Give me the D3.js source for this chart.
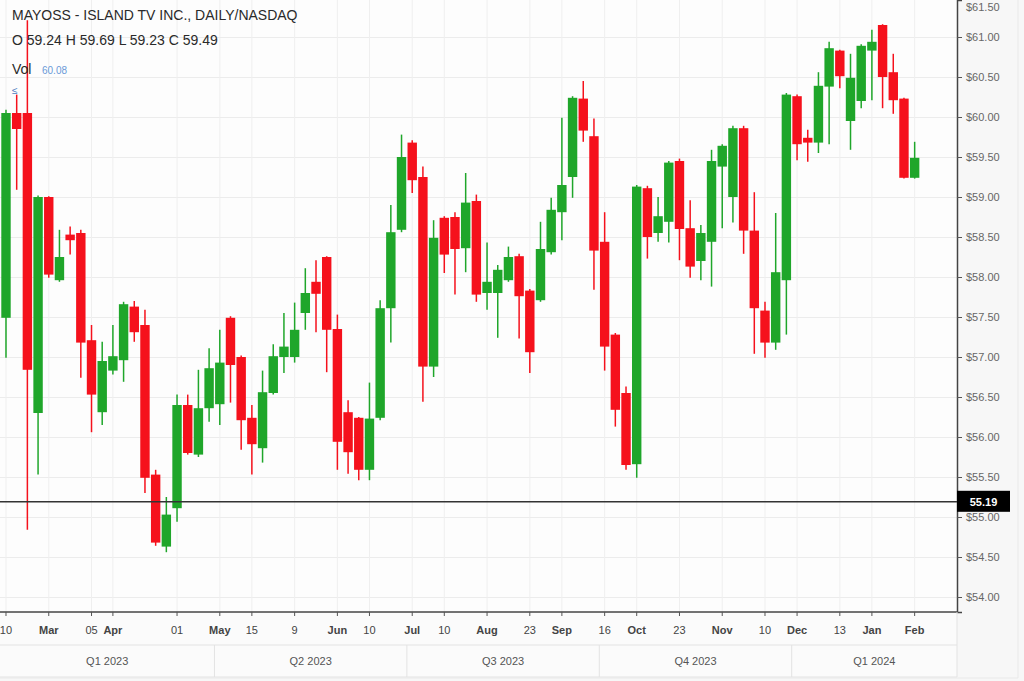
<!DOCTYPE html>
<html>
<head>
<meta charset="utf-8">
<script src="https://cdn.jsdelivr.net/npm/d3@7"></script>
<style>
html,body{margin:0;padding:0;background:#f7f7f7;}
svg{display:block;font-family:"Liberation Sans",Arial,sans-serif;}
</style>
</head>
<body>
<svg id="chart" width="1024" height="681"></svg>
<script>
// ---- data ----
const opens = [57.49,60.05,60.05,56.30,59.00,57.96,58.53,58.55,57.21,56.31,
  56.83,56.96,57.63,57.40,55.53,54.63,55.11,56.40,55.78,56.36,
  56.41,57.49,57.00,56.24,55.86,56.55,57.00,57.00,57.55,57.94,
  58.25,57.35,56.31,56.24,55.59,56.24,57.61,58.59,59.68,59.25,
  56.88,58.74,58.75,58.36,58.95,57.80,57.80,57.96,58.26,57.83,
  57.71,58.31,58.81,59.25,60.23,59.76,58.44,57.28,56.55,55.66,
  59.11,58.55,58.69,59.45,58.61,58.20,58.44,59.38,59.00,59.86,
  58.58,57.58,57.18,57.96,60.26,59.74,59.68,60.38,60.83,59.95,
  60.20,60.83,61.15,60.56,60.23,59.24];
const highs = [60.09,60.28,61.21,59.02,59.01,58.59,58.63,58.59,57.40,57.19,
  57.40,57.69,57.70,57.59,55.59,55.25,56.53,56.53,56.84,57.11,
  57.34,57.51,57.02,56.40,56.83,57.16,57.55,57.68,58.11,58.21,
  58.26,57.53,56.46,56.25,56.68,57.71,58.90,59.78,59.71,59.38,
  58.71,58.76,58.81,59.30,59.03,58.43,58.15,58.38,58.29,57.85,
  58.69,58.99,59.99,60.26,60.45,59.98,58.81,57.30,56.63,59.15,
  59.14,59.00,59.45,59.48,58.96,58.65,59.59,59.66,59.89,59.89,
  59.06,57.69,58.80,60.30,60.28,59.84,60.56,60.94,60.84,60.79,
  60.91,61.09,61.16,60.79,60.24,59.69];
const lows = [56.99,59.09,54.84,55.53,57.99,57.94,58.28,56.74,56.06,56.15,
  56.78,56.69,57.19,55.30,54.64,54.56,54.94,55.78,55.75,56.19,
  56.15,56.43,55.84,55.53,55.68,56.53,56.80,56.93,57.34,57.31,
  56.81,55.59,55.54,55.46,55.46,56.21,57.18,58.56,59.05,56.44,
  56.75,58.05,57.78,58.06,57.69,57.59,57.24,57.94,57.23,56.80,
  57.69,58.28,58.46,58.99,59.69,57.84,56.83,56.13,55.59,55.49,
  58.23,58.44,58.43,58.21,57.99,57.96,57.88,58.61,58.68,58.29,
  57.04,56.99,57.09,57.28,59.46,59.44,59.55,59.66,60.36,59.59,
  60.11,60.21,60.11,60.04,59.23,59.23];
const closes = [60.05,59.85,56.84,59.00,58.03,58.25,58.46,57.18,56.53,56.95,
  57.01,57.66,57.31,55.49,54.68,55.03,56.40,55.80,56.36,56.86,
  56.93,56.90,56.21,55.91,56.56,57.01,57.13,57.34,57.80,57.79,
  57.34,55.94,55.81,55.59,56.23,57.61,58.56,59.50,59.21,56.88,
  58.49,58.28,58.35,58.93,57.78,57.94,58.09,58.25,57.76,57.06,
  58.35,58.84,59.15,60.24,59.83,58.33,57.13,56.34,55.65,59.13,
  58.50,58.76,59.43,58.60,58.13,58.55,59.45,59.64,59.86,58.58,
  57.61,57.18,58.06,60.28,59.66,59.68,60.39,60.86,60.51,60.49,
  60.89,60.94,60.50,60.21,59.24,59.49];

// trading sessions (weekdays)
const sessions = d3.timeDay.range(new Date(2023, 2, 6), new Date(2023, 6, 31))
  .filter(d => d.getDay() !== 0 && d.getDay() !== 6)
  .slice(0, opens.length)
  .map(d3.timeFormat("%Y-%m-%d"));

const yTickValues = [54.0,54.5,55.0,55.5,56.0,56.5,57.0,57.5,58.0,58.5,59.0,59.5,60.0,60.5,61.0,61.5];
const xTickSession = [0,4,8,10,16,20,23,27,31,34,38,41,45,49,52,56,59,63,67,71,74,78,81,85];
const xTickLabels = ["10","Mar","05","Apr","01","May","15","9","Jun","10","Jul","10","Aug","23","Sep","16","Oct","23","Nov","10","Dec","13","Jan","Feb"];
const periodStart = [0,20,38,56,74];
const periodLabels = ["Q1 2023","Q2 2023","Q3 2023","Q4 2023","Q1 2024"];
const lastPrice = 55.19;
const headerLine1 = "MAYOSS - ISLAND TV INC., DAILY/NASDAQ";
const headerLine2 = "O 59.24  H 59.69  L 59.23  C 59.49";
const headerLine3 = "Vol";
const headerValue3 = "60.08";

// ---- layout ----
const W = 1024, H = 681;
const plotR = 957, plotB = 612;
const UP = "#1fa62a", DOWN = "#f5111c";

const data = sessions.map((s, i) => ({s, o: opens[i], h: highs[i], l: lows[i], c: closes[i]}));

const svg = d3.select("#chart");

const x = d3.scaleBand().domain(sessions).range([0.65, 920]).paddingInner(0.12).paddingOuter(0.06);
const y = d3.scaleLinear().domain([53.8125, 61.4625]).range([plotB, 0]);
const bw = x.bandwidth(), step = x.step();
const gap = (step - bw) / 2;

// backgrounds
svg.append("rect").attr("width", W).attr("height", H).attr("fill", "#f7f7f7");
svg.append("rect").attr("x", 0).attr("y", 0).attr("width", plotR).attr("height", plotB).attr("fill", "#fdfdfd");
svg.append("rect").attr("x", 0).attr("y", plotB).attr("width", plotR).attr("height", 66).attr("fill", "#fbfbfb");
svg.append("line").attr("x1", 1018).attr("x2", 1018).attr("y1", 0).attr("y2", 678).attr("stroke", "#e9e9e9");
svg.append("line").attr("x1", 0).attr("x2", 1018).attr("y1", 678).attr("y2", 678).attr("stroke", "#e9e9e9");

// grid
const grid = svg.append("g");
grid.selectAll("line.h").data(yTickValues).join("line")
  .attr("x1", 0).attr("x2", plotR).attr("y1", d => y(d) + 0.5).attr("y2", d => y(d) + 0.5)
  .attr("stroke", "#ececec");
grid.selectAll("line.v").data(xTickSession).join("line")
  .attr("x1", d => x(sessions[d]) + bw / 2).attr("x2", d => x(sessions[d]) + bw / 2)
  .attr("y1", 0).attr("y2", plotB).attr("stroke", "#efefef");

// candles
const cg = svg.append("g");
const candle = cg.selectAll("g").data(data).join("g");
candle.append("line")
  .attr("x1", d => x(d.s) + bw / 2).attr("x2", d => x(d.s) + bw / 2)
  .attr("y1", d => y(d.h)).attr("y2", d => y(d.l))
  .attr("stroke", d => d.c >= d.o ? UP : DOWN).attr("stroke-width", 1.5);
candle.append("rect")
  .attr("x", d => x(d.s)).attr("width", bw)
  .attr("y", d => y(Math.max(d.o, d.c)))
  .attr("height", d => Math.max(1.5, Math.abs(y(d.o) - y(d.c))))
  .attr("fill", d => d.c >= d.o ? UP : DOWN);

// last price line
svg.append("line").attr("x1", 0).attr("x2", plotR)
  .attr("y1", y(lastPrice)).attr("y2", y(lastPrice))
  .attr("stroke", "#333").attr("stroke-width", 1.5);

// right axis
const yAxis = svg.append("g").attr("transform", `translate(${plotR},0)`)
  .call(d3.axisRight(y).tickValues(yTickValues).tickSize(5).tickPadding(4)
    .tickFormat(d => "$" + d.toFixed(2)));
yAxis.select(".domain").attr("stroke", "#444").attr("stroke-width", 1.5);
yAxis.selectAll(".tick line").attr("stroke", "#555");
yAxis.selectAll(".tick text").attr("fill", "#666").attr("font-size", 11)
  .attr("font-family", "Liberation Sans, Arial, sans-serif")
  .attr("y", d => Math.max(0, 7 - y(d)));

// price badge
const by = y(lastPrice);
svg.append("rect").attr("x", plotR).attr("y", by - 11).attr("width", 53).attr("height", 21).attr("fill", "#000");
svg.append("text").attr("x", plotR + 26.5).attr("y", by + 4).attr("text-anchor", "middle")
  .attr("fill", "#fff").attr("font-size", 11).attr("font-weight", "bold").text(lastPrice.toFixed(2));

// x axis
svg.append("line").attr("x1", 0).attr("x2", plotR).attr("y1", plotB).attr("y2", plotB)
  .attr("stroke", "#444").attr("stroke-width", 1.5);
const xAxis = svg.append("g").attr("transform", `translate(0,${plotB})`)
  .call(d3.axisBottom(x).tickValues(xTickSession.map(i => sessions[i])).tickSize(4).tickPadding(10)
    .tickFormat((d, i) => xTickLabels[i]));
xAxis.select(".domain").remove();
xAxis.selectAll(".tick line").attr("stroke", "#555");
xAxis.selectAll(".tick text").attr("fill", "#444").attr("font-size", 11)
  .attr("font-family", "Liberation Sans, Arial, sans-serif")
  .attr("font-weight", (d, i) => /^[0-9]+$/.test(xTickLabels[i]) ? "normal" : "bold");

// period band
const bandTop = 645, bandBot = 677;
const pb = periodStart.map((s, i) => ({
  x0: s === 0 ? 0 : x(sessions[s]) - gap,
  x1: i < periodStart.length - 1 ? x(sessions[periodStart[i + 1]]) - gap : plotR,
  label: periodLabels[i]
}));
const band = svg.append("g");
band.append("line").attr("x1", 0).attr("x2", plotR).attr("y1", bandTop).attr("y2", bandTop).attr("stroke", "#e3e3e3");
band.append("line").attr("x1", 0).attr("x2", plotR).attr("y1", bandBot).attr("y2", bandBot).attr("stroke", "#e3e3e3");
band.selectAll("line.sep").data(pb.slice(1)).join("line")
  .attr("x1", d => d.x0).attr("x2", d => d.x0).attr("y1", bandTop).attr("y2", bandBot).attr("stroke", "#e3e3e3");
band.append("line").attr("x1", plotR).attr("x2", plotR).attr("y1", plotB).attr("y2", bandBot).attr("stroke", "#e3e3e3");
band.selectAll("text").data(pb).join("text")
  .attr("x", d => (d.x0 + d.x1) / 2).attr("y", (bandTop + bandBot) / 2 + 4)
  .attr("text-anchor", "middle").attr("font-size", 11).attr("fill", "#555").text(d => d.label);

// header
const hdr = svg.append("g").attr("fill", "#2a2a2a").attr("font-size", 14);
hdr.append("text").attr("x", 12).attr("y", 20).text(headerLine1);
hdr.append("text").attr("x", 12).attr("y", 45).text(headerLine2);
hdr.append("text").attr("x", 12).attr("y", 74).text(headerLine3);
hdr.append("text").attr("x", 42).attr("y", 74).attr("fill", "#6a9ad8").attr("font-size", 10).text(headerValue3);
hdr.append("text").attr("x", 12).attr("y", 94).attr("fill", "#4a7cc0").attr("font-size", 10).text("≤");
</script>
</body>
</html>
